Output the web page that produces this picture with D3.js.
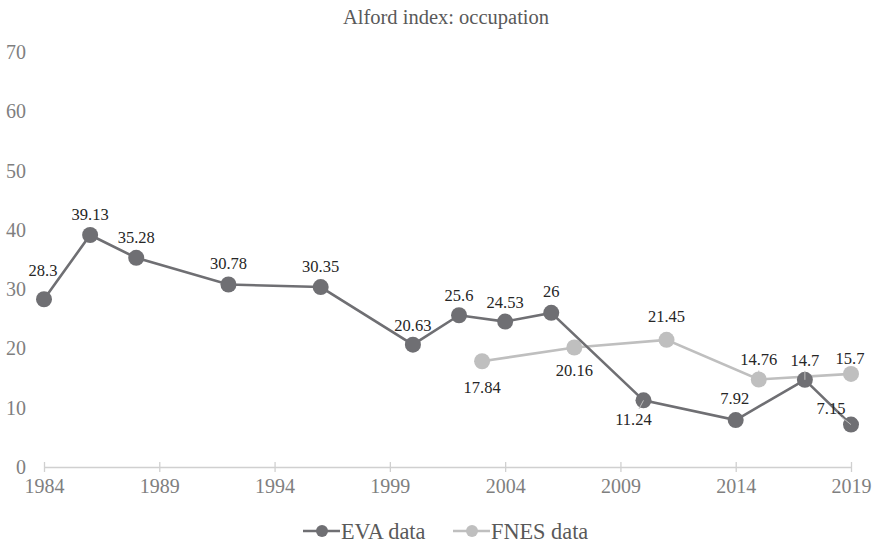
<!DOCTYPE html>
<html>
<head>
<meta charset="utf-8">
<script src="https://cdn.jsdelivr.net/npm/d3@7"></script>
<style>
  body { margin: 0; background: #fff; }
  svg text { font-family: "Liberation Serif", "Times New Roman", serif; }
</style>
</head>
<body>
<div id="chart"></div>
<script>
// data
const evaYears = [1984, 1986, 1988, 1992, 1996, 2000, 2002, 2004, 2006, 2010, 2014, 2017, 2019];
const evaValues = [28.3, 39.13, 35.28, 30.78, 30.35, 20.63, 25.6, 24.53, 26, 11.24, 7.92, 14.7, 7.15];
const fnesYears = [2003, 2007, 2011, 2015, 2019];
const fnesValues = [17.84, 20.16, 21.45, 14.76, 15.7];
const xTicks = [1984, 1989, 1994, 1999, 2004, 2009, 2014, 2019];
const yTicks = [0, 10, 20, 30, 40, 50, 60, 70];

// label offsets (dx, dy from point, px) and optional leader line
const evaLabelPos = [[-1, -29], [0, -21], [0, -21], [0, -21], [0, -21], [0, -19], [0, -20], [0, -19], [0, -22], [-10, 19], [-1, -22], [0, -20], [-20, -16]];
const fnesLabelPos = [[0, 26], [0, 23], [0, -24], [0, -20], [-1, -16]];
const evaLeader = [false, false, false, false, false, false, false, false, false, true, false, true, true];
const fnesLeader = [false, false, false, true, false];

const W = 876, H = 545;
const evaColor = "#6f6f73", fnesColor = "#bfbfbf";

const svg = d3.select("#chart").append("svg")
    .attr("width", W)
    .attr("height", H);

const x = d3.scaleLinear().domain([1984, 2019]).range([44, 851]);
const y = d3.scaleLinear().domain([0, 70]).range([467, 52]);

// title
svg.append("text")
    .attr("x", 446)
    .attr("y", 24)
    .attr("text-anchor", "middle")
    .style("font-size", "20.5px")
    .attr("fill", "#595959")
    .text("Alford index: occupation");

// y tick labels (no axis line)
svg.append("g").selectAll("text")
    .data(yTicks)
    .enter()
    .append("text")
    .attr("x", 26)
    .attr("y", d => y(d))
    .attr("dy", "0.35em")
    .attr("text-anchor", "end")
    .style("font-size", "20px")
    .attr("fill", "#7f7f7f")
    .text(d => d);

// x axis
const xAxis = svg.append("g")
    .attr("transform", `translate(0, ${y(0)})`)
    .call(d3.axisBottom(x).tickValues(xTicks).tickFormat(d3.format("d")).tickSizeInner(0).tickSizeOuter(0));
xAxis.select(".domain").attr("stroke", "#d0d0d0").attr("stroke-width", 1.3);
xAxis.selectAll(".tick line").remove();
xAxis.selectAll(".tick").append("line")
    .attr("y1", -5).attr("y2", 5)
    .attr("stroke", "#d0d0d0").attr("stroke-width", 1.3);
xAxis.selectAll(".tick text")
    .attr("y", 9)
    .attr("dy", "0.85em")
    .style("font-size", "20px")
    .attr("fill", "#7f7f7f");

const eva = evaYears.map((yr, i) => ({ year: yr, value: evaValues[i], pos: evaLabelPos[i], leader: evaLeader[i] }));
const fnes = fnesYears.map((yr, i) => ({ year: yr, value: fnesValues[i], pos: fnesLabelPos[i], leader: fnesLeader[i] }));

const line = d3.line()
    .x(d => x(d.year))
    .y(d => y(d.value));

function drawSeries(data, color) {
  svg.append("path")
      .datum(data)
      .attr("fill", "none")
      .attr("stroke", color)
      .attr("stroke-width", 2.6)
      .attr("d", line);

  svg.append("g").selectAll("circle")
      .data(data)
      .enter()
      .append("circle")
      .attr("cx", d => x(d.year))
      .attr("cy", d => y(d.value))
      .attr("r", 8)
      .attr("fill", color);
}

function drawLabels(data) {
  // leader lines
  svg.append("g").selectAll("line")
      .data(data.filter(d => d.leader))
      .enter()
      .append("line")
      .attr("x1", d => x(d.year) + d.pos[0] * 0.45)
      .attr("y1", d => y(d.value) + d.pos[1] * 0.45)
      .attr("x2", d => x(d.year))
      .attr("y2", d => y(d.value))
      .attr("stroke", "#bfbfbf")
      .attr("stroke-width", 1);

  svg.append("g").selectAll("text")
      .data(data)
      .enter()
      .append("text")
      .attr("x", d => x(d.year) + d.pos[0])
      .attr("y", d => y(d.value) + d.pos[1])
      .attr("dy", "0.35em")
      .attr("text-anchor", "middle")
      .style("font-size", "16.5px")
      .attr("fill", "#262626")
      .text(d => d.value);
}

drawSeries(fnes, fnesColor);
drawSeries(eva, evaColor);
drawLabels(eva);
drawLabels(fnes);

// legend
const legend = svg.append("g").attr("transform", "translate(0, 531)");
const legendItems = [["EVA data", evaColor, 303], ["FNES data", fnesColor, 453]];
const items = legend.selectAll("g")
    .data(legendItems)
    .enter()
    .append("g")
    .attr("transform", d => `translate(${d[2]}, 0)`);
items.append("line")
    .attr("x1", 0).attr("x2", 37)
    .attr("stroke", d => d[1]).attr("stroke-width", 2.6);
items.append("circle")
    .attr("cx", 19).attr("r", 6)
    .attr("fill", d => d[1]);
items.append("text")
    .attr("x", 38)
    .attr("dy", "0.35em")
    .style("font-size", "22.3px")
    .attr("fill", "#595959")
    .text(d => d[0]);
</script>
</body>
</html>
